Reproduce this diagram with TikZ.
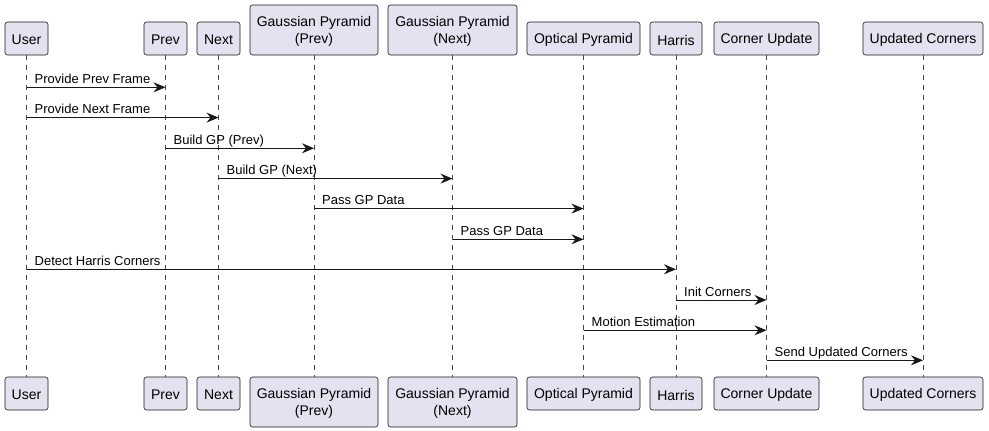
\documentclass[tikz,border=0pt]{standalone}
\usepackage{fontspec}
\setmainfont{Liberation Sans}
\usetikzlibrary{arrows.meta}
\definecolor{boxfill}{HTML}{E2E2F0}
\definecolor{ink}{HTML}{181818}
\newcommand\lowr[1]{\raisebox{-1.5pt}[\height][\depth]{#1}}
\tikzset{
  part/.style={draw=ink, line width=0.6pt, fill=boxfill, rounded corners=2.5pt,
    inner sep=0pt, align=center, font=\fontsize{14}{16.3}\selectfont, text=black},
  life/.style={draw=ink!80, line width=0.6pt, dash pattern=on 5pt off 5pt},
  msg/.style={draw=ink, line width=1pt, -{Stealth[length=12pt,width=10pt,inset=4pt]}},
  lbl/.style={anchor=base west, inner sep=0pt, font=\fontsize{13}{15}\selectfont, text=black}
}
\begin{document}
\begin{tikzpicture}[x=1pt,y=-1pt]
\useasboundingbox (0,0) rectangle (989,431);
% top participants
\node[part, minimum width=43pt, minimum height=33pt] (uT) at (26.5,38.5) {\lowr{User}};
\node[part, minimum width=43pt, minimum height=33pt] (pT) at (165.5,38.5) {\lowr{Prev}};
\node[part, minimum width=43pt, minimum height=33pt] (nT) at (218.5,38.5) {\lowr{Next}};
\node[part, minimum width=128pt, minimum height=50pt] (gpT) at (314,30) {\lowr{Gaussian Pyramid}\\\lowr{(Prev)}};
\node[part, minimum width=129pt, minimum height=50pt] (gnT) at (452.5,30) {\lowr{Gaussian Pyramid}\\\lowr{(Next)}};
\node[part, minimum width=113pt, minimum height=33pt] (oT) at (583.5,38.5) {\lowr{Optical Pyramid}};
\node[part, minimum width=52pt, minimum height=33pt] (hT) at (676,38.5) {\lowr{Harris}};
\node[part, minimum width=105pt, minimum height=33pt] (cT) at (766.5,38.5) {\lowr{Corner Update}};
\node[part, minimum width=120pt, minimum height=33pt] (ucT) at (923,38.5) {\lowr{Updated Corners}};
% bottom participants
\node[part, minimum width=43pt, minimum height=33pt] (uB) at (26.5,393.5) {\lowr{User}};
\node[part, minimum width=43pt, minimum height=33pt] (pB) at (165.5,393.5) {\lowr{Prev}};
\node[part, minimum width=43pt, minimum height=33pt] (nB) at (218.5,393.5) {\lowr{Next}};
\node[part, minimum width=128pt, minimum height=50pt] (gpB) at (314,402) {\lowr{Gaussian Pyramid}\\\lowr{(Prev)}};
\node[part, minimum width=129pt, minimum height=50pt] (gnB) at (452.5,402) {\lowr{Gaussian Pyramid}\\\lowr{(Next)}};
\node[part, minimum width=113pt, minimum height=33pt] (oB) at (583.5,393.5) {\lowr{Optical Pyramid}};
\node[part, minimum width=52pt, minimum height=33pt] (hB) at (676,393.5) {\lowr{Harris}};
\node[part, minimum width=105pt, minimum height=33pt] (cB) at (766.5,393.5) {\lowr{Corner Update}};
\node[part, minimum width=120pt, minimum height=33pt] (ucB) at (923,393.5) {\lowr{Updated Corners}};
% lifelines
\foreach \a/\b in {uT/uB,pT/pB,nT/nB,gpT/gpB,gnT/gnB,oT/oB,hT/hB,cT/cB,ucT/ucB}
  \draw[life] (\a.south) -- (\b.north);
% message rows
\foreach \i/\y in {1/87.3,2/117.6,3/148.3,4/178.6,5/208.6,6/239.3,7/269.3,8/300,9/330.3,10/360.3}
  \coordinate (r\i) at (0,\y);
% messages
\draw[msg] (uT |- r1) -- (pT |- r1);
\node[lbl] at ([xshift=8pt,yshift=4pt]uT |- r1) {Provide Prev Frame};
\draw[msg] (uT |- r2) -- (nT |- r2);
\node[lbl] at ([xshift=8pt,yshift=4pt]uT |- r2) {Provide Next Frame};
\draw[msg] (pT |- r3) -- (gpT |- r3);
\node[lbl] at ([xshift=8pt,yshift=4pt]pT |- r3) {Build GP (Prev)};
\draw[msg] (nT |- r4) -- (gnT |- r4);
\node[lbl] at ([xshift=8pt,yshift=4pt]nT |- r4) {Build GP (Next)};
\draw[msg] (gpT |- r5) -- (oT |- r5);
\node[lbl] at ([xshift=8pt,yshift=4pt]gpT |- r5) {Pass GP Data};
\draw[msg] (gnT |- r6) -- (oT |- r6);
\node[lbl] at ([xshift=8pt,yshift=4pt]gnT |- r6) {Pass GP Data};
\draw[msg] (uT |- r7) -- (hT |- r7);
\node[lbl] at ([xshift=8pt,yshift=4pt]uT |- r7) {Detect Harris Corners};
\draw[msg] (hT |- r8) -- (cT |- r8);
\node[lbl] at ([xshift=8pt,yshift=4pt]hT |- r8) {Init Corners};
\draw[msg] (oT |- r9) -- (cT |- r9);
\node[lbl] at ([xshift=8pt,yshift=4pt]oT |- r9) {Motion Estimation};
\draw[msg] (cT |- r10) -- (ucT |- r10);
\node[lbl] at ([xshift=8pt,yshift=4pt]cT |- r10) {Send Updated Corners};
\end{tikzpicture}
\end{document}
